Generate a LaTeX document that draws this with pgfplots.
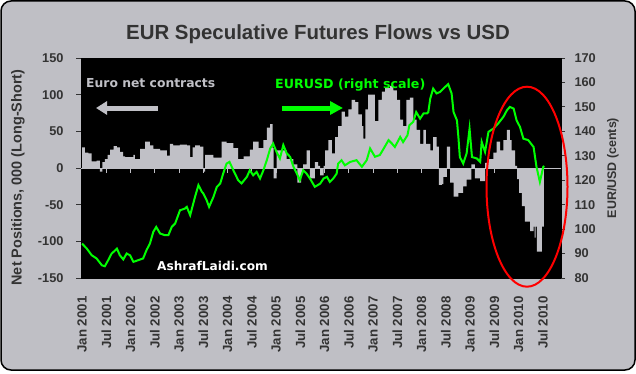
\documentclass[border=0pt]{standalone}
\usepackage{pgfplots}
\pgfplotsset{compat=1.18}
\usepackage{fontspec}
\setmainfont{Liberation Sans}
\newfontfamily\annfont{DejaVu Sans}
\usetikzlibrary{arrows.meta}
\definecolor{bg}{RGB}{191,191,197}
\definecolor{bargray}{RGB}{192,192,198}
\definecolor{txt}{RGB}{51,51,51}
\definecolor{eurgreen}{RGB}{0,255,0}

\pgfplotstableread{
x y
2001.00 28
2001.06 21
2001.13 20
2001.20 9
2001.30 10
2001.37 -5
2001.42 8
2001.47 12
2001.53 18
2001.58 25
2001.65 30
2001.72 28
2001.78 22
2001.85 16
2001.89 15
2002.06 18
2002.09 12
2002.20 26
2002.30 36
2002.40 31
2002.47 26
2002.61 24
2002.75 17
2002.81 33
2002.88 31
2003.02 32
2003.16 31
2003.23 15
2003.28 28
2003.33 31
2003.43 29
2003.50 -5
2003.54 18
2003.71 14
2003.88 36
2003.98 34
2004.12 27
2004.22 12
2004.33 16
2004.46 25
2004.53 36
2004.64 27
2004.74 38
2004.81 55
2004.88 60
2004.93 27
2004.95 -14
2005.01 24
2005.22 12
2005.36 5
2005.44 -20
2005.52 -8
2005.56 5
2005.63 24
2005.70 -14
2005.80 8
2005.87 3
2005.91 -10
2005.98 3
2006.01 24
2006.08 38
2006.15 20
2006.22 42
2006.28 57
2006.35 77
2006.42 70
2006.49 80
2006.56 93
2006.63 90
2006.70 73
2006.77 57
2006.80 40
2006.84 80
2006.90 100
2006.97 100
2007.04 64
2007.11 93
2007.18 104
2007.25 109
2007.35 112
2007.42 106
2007.49 93
2007.56 66
2007.62 57
2007.69 93
2007.76 96
2007.83 66
2007.90 52
2007.97 33
2008.04 52
2008.09 33
2008.18 24
2008.24 42
2008.31 29
2008.36 -23
2008.42 -22
2008.45 -12
2008.52 29
2008.59 -20
2008.66 -39
2008.76 -34
2008.86 -25
2008.93 -16
2009.03 5
2009.10 -14
2009.21 -18
2009.31 7
2009.38 12
2009.48 21
2009.55 36
2009.62 24
2009.69 38
2009.76 52
2009.82 38
2009.86 24
2009.93 3
2009.97 -15
2010.01 -34
2010.07 -52
2010.13 -73
2010.24 -86
2010.31 -80
2010.33 -95
2010.35 -80
2010.38 -114
2010.48 -80
2010.52 0
}\nettable

\pgfplotstableread{
x y
2001.00 94.1
2001.10 92.0
2001.20 89.3
2001.30 88.0
2001.41 85.2
2001.47 84.8
2001.54 87.3
2001.61 90.0
2001.65 90.7
2001.72 92.0
2001.78 89.3
2001.85 87.6
2001.92 90.0
2001.99 89.3
2002.06 86.6
2002.16 87.3
2002.26 88.0
2002.33 91.4
2002.40 94.1
2002.47 98.9
2002.53 100.9
2002.61 98.2
2002.71 97.5
2002.78 97.5
2002.85 100.9
2002.92 102.3
2003.02 107.7
2003.12 108.4
2003.16 109.1
2003.23 105.7
2003.33 113.2
2003.40 118.0
2003.47 115.3
2003.50 114.6
2003.57 111.8
2003.62 109.1
2003.71 113.2
2003.78 117.3
2003.85 118.7
2003.91 122.7
2003.98 126.8
2004.04 127.5
2004.12 124.1
2004.22 120.0
2004.29 118.7
2004.40 121.4
2004.46 124.1
2004.53 122.0
2004.60 123.4
2004.67 120.7
2004.74 124.1
2004.81 128.2
2004.88 133.0
2004.94 135.0
2005.01 131.6
2005.08 128.9
2005.15 134.4
2005.22 131.0
2005.29 129.6
2005.36 125.5
2005.43 122.7
2005.49 120.0
2005.56 124.1
2005.63 122.7
2005.70 120.7
2005.80 117.3
2005.91 118.6
2005.98 120.7
2006.05 121.4
2006.11 119.3
2006.18 120.7
2006.25 122.7
2006.28 126.8
2006.35 128.2
2006.42 126.1
2006.53 127.5
2006.66 128.2
2006.77 125.5
2006.87 128.2
2006.94 133.0
2007.04 129.6
2007.14 130.3
2007.21 132.6
2007.32 136.4
2007.39 135.0
2007.45 133.6
2007.56 137.7
2007.62 135.6
2007.71 138.4
2007.75 142.5
2007.83 143.9
2007.89 147.9
2007.97 145.2
2008.04 147.3
2008.11 147.3
2008.14 147.9
2008.18 153.4
2008.24 157.5
2008.31 155.5
2008.38 156.1
2008.45 157.5
2008.55 159.3
2008.62 155.5
2008.66 147.9
2008.73 144.5
2008.76 137.7
2008.79 129.5
2008.86 126.8
2008.93 131.0
2008.99 141.1
2009.04 129.5
2009.14 128.9
2009.21 127.5
2009.24 135.7
2009.31 131.6
2009.38 139.8
2009.48 141.1
2009.58 143.2
2009.69 146.0
2009.76 148.6
2009.82 150.0
2009.90 149.3
2009.96 144.5
2010.03 141.8
2010.10 137.0
2010.20 136.4
2010.31 133.6
2010.37 125.5
2010.44 119.3
2010.51 125.5
2010.53 125.8
}\eurtable

\begin{document}
\begin{tikzpicture}
\begin{scope}[x=1bp,y=1bp]
\useasboundingbox (0,0) rectangle (636,373);
\draw[fill=bg, draw=black, line width=1.5bp, rounded corners=10bp] (1,3) rectangle (635,372);
\node[font=\bfseries\fontsize{20.5}{24}\selectfont, text=txt, anchor=base] at (318,334) {EUR Speculative Futures Flows vs USD};
\end{scope}

\begin{axis}[
  at={(81bp,95bp)}, anchor=south west,
  scale only axis, width=480bp, height=220bp,
  xmin=2000.979, xmax=2010.876, ymin=-150, ymax=150,
  axis background/.style={fill=black},
  axis line style={black},
  tick align=outside, major tick length=5bp,
  ytick={-150,-100,-50,0,50,100,150},
  yticklabels={-150,-100,-50,0,50,100,150},
  ytick pos=left,
  ytick style={draw=txt, line width=1bp},
  yticklabel style={font=\bfseries\fontsize{12.8}{14}\selectfont, text=txt},
  yticklabel shift=9bp,
  xtick={2001,2001.5,2002,2002.5,2003,2003.5,2004,2004.5,2005,2005.5,2006,2006.5,2007,2007.5,2008,2008.5,2009,2009.5,2010,2010.5},
  xticklabels={Jan 2001,Jul 2001,Jan 2002,Jul 2002,Jan 2003,Jul 2003,Jan 2004,Jul 2004,Jan 2005,Jul 2005,Jan 2006,Jul 2006,Jan 2007,Jul 2007,Jan 2008,Jul 2008,Jan 2009,Jul 2009,Jan 2010,Jul 2010},
  xtick style={draw=none},
  xticklabel style={rotate=90, anchor=east, font=\bfseries\fontsize{13.3}{14}\selectfont, text=txt},
  xticklabel shift=10bp,
  /pgf/number format/assume math mode=true,
]
\addplot[ybar interval, fill=bargray, draw=none] table[x=x,y=y] {\nettable};
\draw[bargray, line width=1bp] (axis cs:2000.979,0) -- (axis cs:2010.876,0);
\pgfplotsinvokeforeach{2001.5,2002,2002.5,2003,2003.5,2004,2004.5,2005,2005.5,2006,2006.5,2007,2007.5,2008,2008.5,2009,2009.5,2010,2010.5}{
  \draw[bargray, line width=1bp] (axis cs:#1,0) -- (axis cs:#1,-7);
}
\end{axis}

\begin{axis}[
  at={(81bp,95bp)}, anchor=south west,
  scale only axis, width=480bp, height=220bp,
  xmin=2000.979, xmax=2010.876, ymin=80, ymax=170,
  axis x line=none, axis y line*=right,
  axis line style={black},
  tick align=outside, major tick length=4bp,
  ytick={80,90,100,110,120,130,140,150,160,170},
  yticklabels={80,90,100,110,120,130,140,150,160,170},
  ytick style={draw=txt, line width=1bp},
  yticklabel style={font=\bfseries\fontsize{12.8}{14}\selectfont, text=txt},
  yticklabel shift=6bp,
  /pgf/number format/assume math mode=true,
]
\addplot[eurgreen, line width=2bp] table[x=x,y=y] {\eurtable};
\end{axis}

\begin{scope}[x=1bp,y=1bp]
\node[rotate=90, font=\bfseries\fontsize{14.5}{16}\selectfont, text=txt] at (18,195.5) {Net Positions, 000 (Long-Short)};
\node[rotate=90, font=\bfseries\fontsize{12.5}{14}\selectfont, text=txt] at (613,205) {EUR/USD (cents)};
\node[anchor=west, inner sep=0pt, font=\annfont\bfseries\fontsize{12.4}{14}\selectfont, text=bargray] at (86,290) {Euro net contracts};
\draw[bargray, line width=5bp, -{Triangle[length=11bp,width=13bp]}] (158,265) -- (96,265);
\node[anchor=west, inner sep=0pt, font=\annfont\bfseries\fontsize{12.7}{14}\selectfont, text=eurgreen] at (275,288) {EURUSD (right scale)};
\draw[eurgreen, line width=5bp, -{Triangle[length=13bp,width=13bp]}] (282,265) -- (343,265);
\node[anchor=west, inner sep=0pt, font=\annfont\bfseries\fontsize{12.2}{14}\selectfont, text=white] at (157,107.4) {AshrafLaidi.com};
\draw[red, line width=2bp] (527,186.3) ellipse [x radius=40.5, y radius=100];
\end{scope}
\end{tikzpicture}
\end{document}
